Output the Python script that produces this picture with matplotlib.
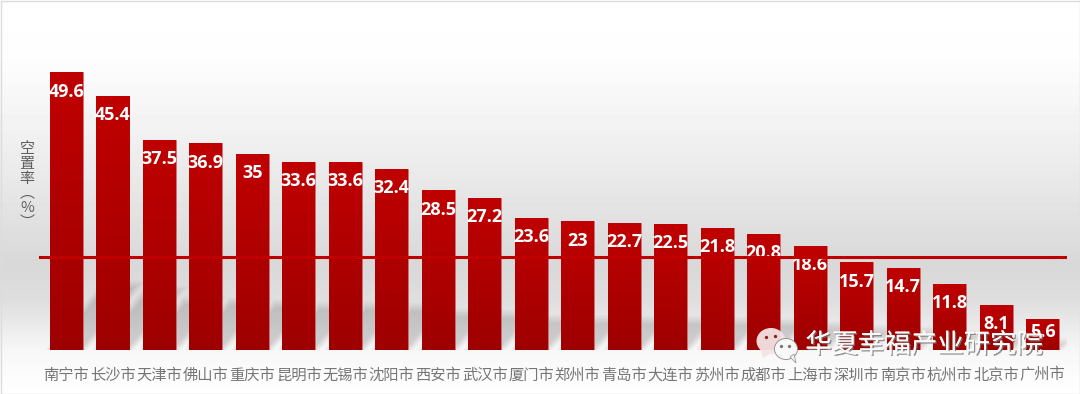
import numpy as np
import matplotlib
matplotlib.use('Agg')
import matplotlib.pyplot as plt
import matplotlib.patheffects as pe
from matplotlib.patches import Ellipse, Polygon, PathPatch
from matplotlib.path import Path

plt.rcParams['font.family'] = ['Noto Sans CJK SC', 'DejaVu Sans']

cities = ['南宁市', '长沙市', '天津市', '佛山市', '重庆市', '昆明市', '无锡市', '沈阳市',
          '西安市', '武汉市', '厦门市', '郑州市', '青岛市', '大连市', '苏州市', '成都市',
          '上海市', '深圳市', '南京市', '杭州市', '北京市', '广州市']
rates = [49.6, 45.4, 37.5, 36.9, 35, 33.6, 33.6, 32.4, 28.5, 27.2, 23.6, 23, 22.7, 22.5,
         21.8, 20.8, 18.6, 15.7, 14.7, 11.8, 8.1, 5.6]
average = 16.6

W, H = 1080, 394
fig = plt.figure(figsize=(W / 100, H / 100), dpi=100)

# 背景渐变
bg = fig.add_axes([0, 0, 1, 1], zorder=0)
ys = np.array([0, 60, 150, 265, 300, 350, 394])
gs = np.array([255, 253, 238, 216, 222, 247, 255])
col = np.interp(np.arange(H), ys, gs) / 255
bg.imshow(col[:, None], cmap='gray', vmin=0, vmax=1, aspect='auto', extent=[0, W, H, 0])
bg.set_xlim(0, W)
bg.set_ylim(H, 0)
bg.axis('off')
for x0, y0, x1, y1 in [(0.5, 0.5, W - .5, .5), (.5, .5, .5, H - .5), (.5, H - .5, W - .5, H - .5), (W - .5, .5, W - .5, H - .5)]:
    bg.plot([x0, x1], [y0, y1], color='#dcdcdc', lw=1)

# 主坐标轴: 底部 y=350, 每单位 5.6px
left, right = 39, 1067
bottom, top = 350, 40
first = 66.3
spacing = 46.49
unit = 5.6
ax = fig.add_axes([left / W, 1 - bottom / H, (right - left) / W, (bottom - top) / H], zorder=2)
ax.patch.set_alpha(0)
xlim = ((left - first) / spacing, (right - first) / spacing)
ylim = (0, (bottom - top) / unit)
x = np.arange(len(cities))
bw = 33 / spacing

# 斜向投影, 同一层合并成一个 path 避免重叠变深
for inset, a in [(-5, .025), (-3, .03), (-1, .035), (1, .035), (3, .03)]:
    parts = []
    for i, v in enumerate(rates):
        hpx = v * 1.3 - inset
        dx = hpx * .85 / spacing
        pad = inset / spacing
        x0, x1 = i - bw / 2 + pad, i + bw / 2 - pad
        h = hpx / unit
        parts.append(Path([(x0, 0), (x1, 0), (x1 + dx, h), (x0 + dx, h), (x0, 0)],
                           [Path.MOVETO, Path.LINETO, Path.LINETO, Path.LINETO, Path.CLOSEPOLY]))
    ax.add_patch(PathPatch(Path.make_compound_path(*parts), fc='black', ec='none', alpha=a, zorder=1))

bars = ax.bar(x, rates, width=bw, color='#c00000', edgecolor='#d0707a', linewidth=0.5, zorder=2)
grad = np.linspace(0, 1, 100)[:, None]
cmap = matplotlib.colors.LinearSegmentedColormap.from_list('r', ['#c00000', '#9e0000'])
for b in bars:
    im = ax.imshow(grad, cmap=cmap, aspect='auto', zorder=2.1, interpolation='bilinear',
                   extent=[b.get_x(), b.get_x() + bw, 0, b.get_height()])
    im.set_clip_path(b)
ax.set_xlim(*xlim)
ax.set_ylim(*ylim)

for i, v in enumerate(rates):
    off = 13 if v < 6 else 19.5
    ax.annotate(str(v), (i, v), xytext=(0, -off * .72), textcoords='offset points',
                ha='center', va='center', color='white', fontsize=13, fontweight='bold',
                family=['Open Sans', 'DejaVu Sans'], zorder=3)

ax.axhline(average, color='#c00000', lw=2.2, zorder=4)

ax.set_xticks(x)
ax.set_xticklabels(cities, fontsize=11, color='#767676')
ax.tick_params(axis='x', length=0, pad=12)
ax.set_yticks([])
for s in ax.spines.values():
    s.set_visible(False)

bg.text(27, 186, '空\n置\n率\n︵\n%\n︶', ha='center', va='center', fontsize=10.8,
        color='#5f5f5f', linespacing=1.06, zorder=3)

# 水印
wm = fig.add_axes([0, 0, 1, 1], zorder=5)
wm.set_xlim(0, W)
wm.set_ylim(H, 0)
wm.axis('off')
wm.patch.set_alpha(0)
wm.add_patch(Ellipse((771, 341), 29, 26, fc='#f4e4e4', ec='none', alpha=.95))
wm.add_patch(Polygon([(761, 350), (763, 358), (771, 353)], fc='#f4e4e4', ec='none'))
wm.add_patch(Ellipse((786, 349), 23, 21, fc='#f8f8f8', ec='#8a8a8a', lw=.6))
wm.add_patch(Polygon([(790, 357), (796, 363), (794, 354)], fc='#f8f8f8', ec='#8a8a8a', lw=.5))
for px, py, c in [(766, 337, '#8a2020'), (775, 336, '#8a2020'), (781, 346, '#777777'), (789, 346, '#777777')]:
    wm.plot(px, py, 'o', ms=2.4, color=c, mec='none')
wm.text(924, 345, '华夏幸福产业研究院', ha='center', va='center', fontsize=19, color='#fafafa',
        path_effects=[pe.withSimplePatchShadow(offset=(1, -1), shadow_rgbFace='#777777', alpha=.8),
                      pe.Normal()])

fig.savefig('out.png', dpi=100)
